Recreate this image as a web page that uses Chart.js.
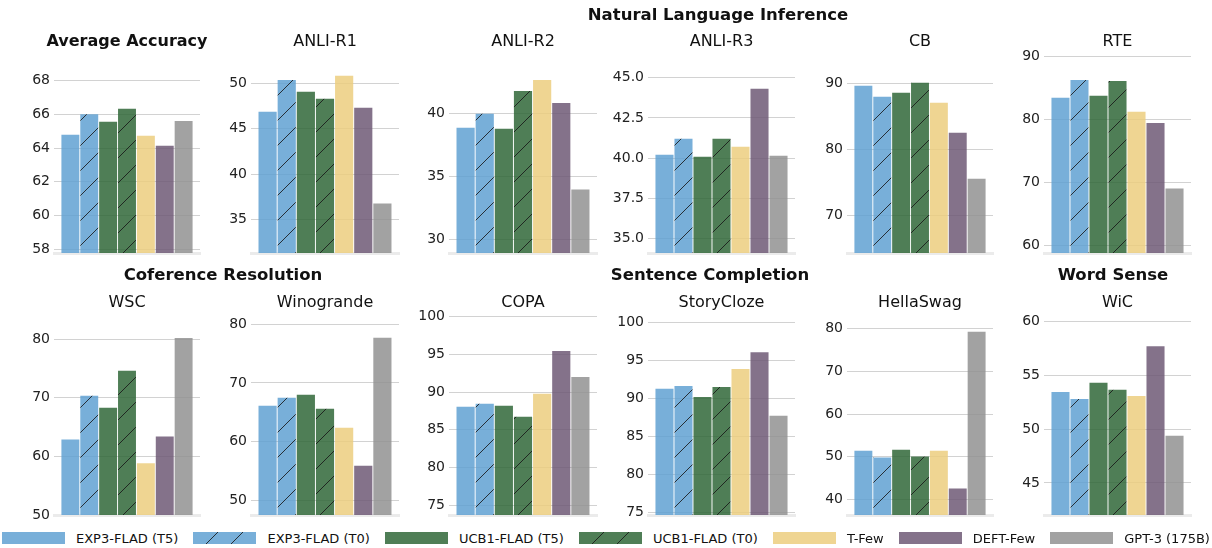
<!DOCTYPE html>
<html>
<head>
<meta charset="utf-8">
<script src="https://cdn.jsdelivr.net/npm/chart.js@4.4.0/dist/chart.umd.min.js"></script>
<style>
  html, body { margin: 0; padding: 0; background: #fff; overflow: hidden; }
  #fig { position: relative; width: 1212px; height: 548px; overflow: hidden;
         font-family: 'DejaVu Sans', sans-serif; color: #111; }
  #fig canvas.panel { position: absolute; }
  .group { position: absolute; font-weight: bold; font-size: 16.5px; white-space: nowrap;
           transform: translate(-50%, -50%); }
  #legend { position: absolute; left: 2px; width: 1208px; display: flex; align-items: center;
            justify-content: space-between; white-space: nowrap; }
  .leg-item { display: flex; align-items: center; }
  .leg-item canvas { display: block; }
  .leg-item span { margin-left: 11px; font-size: 13px; }
</style>
</head>
<body>
<div id="fig"></div>
<script>
// tasks, one small panel each
const tasks = ['Average Accuracy', 'ANLI-R1', 'ANLI-R2', 'ANLI-R3', 'CB', 'RTE',
               'WSC', 'Winogrande', 'COPA', 'StoryCloze', 'HellaSwag', 'WiC'];
const seriesNames = ['EXP3-FLAD (T5)', 'EXP3-FLAD (T0)', 'UCB1-FLAD (T5)', 'UCB1-FLAD (T0)',
                     'T-Few', 'DEFT-Few', 'GPT-3 (175B)'];

// accuracy per series, same order as tasks
const exp3T5  = [64.78, 46.86, 38.84, 40.21, 89.6, 83.4, 62.9, 66.13, 88.06, 91.28, 51.4, 53.45];
const exp3T0  = [66.0, 50.36, 39.95, 41.2, 87.94, 86.2, 70.37, 67.49, 88.45, 91.67, 49.77, 52.8];
const ucb1T5  = [65.55, 49.05, 38.76, 40.09, 88.54, 83.7, 68.3, 68.0, 88.19, 90.22, 51.64, 54.29];
const ucb1T0  = [66.32, 48.28, 41.76, 41.2, 90.05, 86.07, 74.6, 65.6, 86.73, 91.54, 50.0, 53.64];
const tFew    = [64.72, 50.8, 42.63, 40.71, 87.04, 81.17, 58.83, 62.4, 89.78, 93.9, 51.4, 53.08];
const deftFew = [64.14, 47.3, 40.81, 44.3, 82.53, 79.4, 63.4, 55.94, 95.46, 96.1, 42.5, 57.7];
const gpt3    = [65.6, 36.79, 33.95, 40.15, 75.6, 69.0, 80.2, 77.7, 92.0, 87.72, 79.3, 49.38];

// y tick labels per panel
const yTicks = [
  [58, 60, 62, 64, 66, 68], [35, 40, 45, 50], [30, 35, 40], [35, 37.5, 40, 42.5, 45],
  [70, 80, 90], [60, 70, 80, 90], [50, 60, 70, 80], [50, 60, 70, 80],
  [75, 80, 85, 90, 95, 100], [75, 80, 85, 90, 95, 100], [40, 50, 60, 70, 80], [45, 50, 55, 60]
];
const tickDecimals = [0, 0, 0, 1, 0, 0, 0, 0, 0, 0, 0, 0];

const groupTitles = ['Natural Language Inference', 'Coference Resolution', 'Sentence Completion', 'Word Sense'];

// ---- layout / style (not data) ----
const yRange = [
  [57.79, 69.56], [31.36, 53.2], [28.93, 44.68], [34.12, 46.46], [64.4, 94.4], [58.8, 90.33],
  [50.0, 83.96], [47.54, 81.4], [73.7, 100.1], [74.63, 100.9], [36.3, 83.0], [42.02, 60.5]
];
const colX = [[54, 200], [251, 399], [449, 597], [648, 795], [847, 993], [1044, 1191]];
const rowY = [{top: 54, bottom: 253, canvasTop: 22, titleCenter: 42},
              {top: 316, bottom: 515, canvasTop: 284, titleCenter: 303}];
const groupPos = [[718, 14], [223, 274], [710, 274], [1113, 274]];
const legendY = 538;

const baseColors = ['rgba(96,161,210,0.85)', 'rgba(96,161,210,0.85)', 'rgba(48,103,56,0.85)',
                    'rgba(48,103,56,0.85)', 'rgba(236,206,127,0.85)', 'rgba(111,89,117,0.85)',
                    'rgba(146,146,146,0.85)'];
const hatched = [false, true, false, true, false, false, false];
const seriesData = [exp3T5, exp3T0, ucb1T5, ucb1T0, tFew, deftFew, gpt3];

Chart.defaults.font.family = "'DejaVu Sans', sans-serif";
Chart.defaults.color = '#222';

function hatchPattern(ctx, color) {
  const s = 25;
  const c = document.createElement('canvas');
  c.width = s; c.height = s;
  const g = c.getContext('2d');
  g.fillStyle = color;
  g.fillRect(0, 0, s, s);
  g.strokeStyle = 'rgba(25,25,25,0.85)';
  g.lineWidth = 1;
  g.beginPath();
  g.moveTo(-2, s + 2); g.lineTo(s + 2, -2);
  g.moveTo(-2, 2); g.lineTo(2, -2);
  g.moveTo(s - 2, s + 2); g.lineTo(s + 2, s - 2);
  g.stroke();
  return ctx.createPattern(c, 'repeat');
}

const fig = document.getElementById('fig');
const YW = 50;     // fixed y-axis width (left), mirrored by an empty right axis
const PAD_B = 14;
const TITLE_H = 16 * 1.2;

tasks.forEach((task, i) => {
  const col = colX[i % 6];
  const row = rowY[Math.floor(i / 6)];
  const cv = document.createElement('canvas');
  cv.className = 'panel';
  const w = 2 * YW + (col[1] - col[0]);
  const h = row.bottom - row.canvasTop + PAD_B;
  cv.width = w; cv.height = h;
  cv.style.left = (col[0] - YW) + 'px';
  cv.style.top = row.canvasTop + 'px';
  cv.style.width = w + 'px';
  cv.style.height = h + 'px';
  fig.appendChild(cv);
  const ctx = cv.getContext('2d');

  const padTop = row.titleCenter - row.canvasTop - TITLE_H / 2;
  const padBottom = row.top - row.canvasTop - padTop - TITLE_H;

  new Chart(ctx, {
    type: 'bar',
    data: {
      labels: [''],
      datasets: seriesNames.map((name, k) => ({
        label: name,
        data: [seriesData[k][i]],
        backgroundColor: hatched[k] ? hatchPattern(ctx, baseColors[k]) : baseColors[k],
        borderWidth: 0,
        categoryPercentage: 0.905,
        barPercentage: 0.95
      }))
    },
    options: {
      responsive: false,
      animation: false,
      layout: { padding: { left: 0, right: 0, top: 0, bottom: PAD_B } },
      plugins: {
        legend: { display: false },
        tooltip: { enabled: false },
        title: {
          display: true,
          text: task,
          color: '#111',
          font: { size: 16, weight: i === 0 ? 'bold' : 'normal' },
          padding: { top: padTop, bottom: padBottom }
        }
      },
      scales: {
        x: {
          type: 'category',
          grid: { display: false, drawTicks: false },
          ticks: { display: false },
          border: { display: true, color: '#ebebeb', width: 3 }
        },
        y: {
          min: yRange[i][0],
          max: yRange[i][1],
          afterBuildTicks: sc => { sc.ticks = yTicks[i].map(v => ({ value: v })); },
          afterFit: sc => { sc.width = YW; },
          grid: { color: '#d2d2d2', lineWidth: 1, drawTicks: false },
          border: { display: false },
          ticks: {
            padding: 4,
            color: '#222',
            font: { size: 14 },
            callback: v => Number(v).toFixed(tickDecimals[i])
          }
        },
        yRight: {
          position: 'right',
          afterFit: sc => { sc.width = YW; },
          grid: { display: false, drawTicks: false },
          border: { display: false },
          ticks: { display: false }
        }
      }
    }
  });
});

// group headers
groupTitles.forEach((t, k) => {
  const d = document.createElement('div');
  d.className = 'group';
  d.textContent = t;
  d.style.left = groupPos[k][0] + 'px';
  d.style.top = groupPos[k][1] + 'px';
  fig.appendChild(d);
});

// legend
const legend = document.createElement('div');
legend.id = 'legend';
legend.style.top = (legendY - 8) + 'px';
legend.style.height = '16px';
seriesNames.forEach((name, k) => {
  const item = document.createElement('div');
  item.className = 'leg-item';
  const sw = document.createElement('canvas');
  sw.width = 63; sw.height = 12;
  const g = sw.getContext('2d');
  g.fillStyle = hatched[k] ? hatchPattern(g, baseColors[k]) : baseColors[k];
  g.fillRect(0, 0, 63, 12);
  const tx = document.createElement('span');
  tx.textContent = name;
  item.appendChild(sw);
  item.appendChild(tx);
  legend.appendChild(item);
});
fig.appendChild(legend);
</script>
</body>
</html>
